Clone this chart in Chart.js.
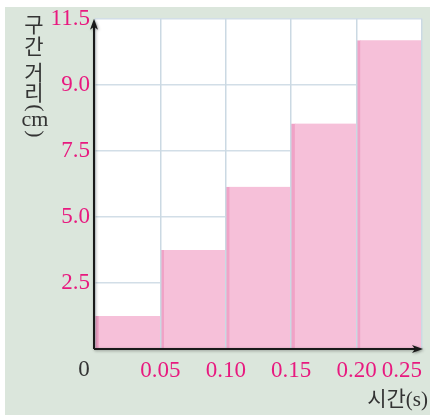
<!DOCTYPE html>
<html>
<head>
<meta charset="utf-8">
<script src="https://cdn.jsdelivr.net/npm/chart.js@4/dist/chart.umd.min.js"></script>
<style>
  html, body { margin: 0; padding: 0; background: #fff; }
  #wrap { width: 430px; height: 415px; }
</style>
</head>
<body>
<div id="wrap"><canvas id="chart" width="430" height="415"></canvas></div>
<script>
// interval edges (s) and distance covered in each interval (cm)
const timeEdges = [0, 0.05, 0.10, 0.15, 0.20, 0.25];
const distances = [1.15, 3.45, 5.65, 7.85, 10.75];
const xLabels = ['', '0.05', '0.10', '0.15', '0.20', '0.25'];
// grid lines are evenly spaced, the printed labels are not
const yGrid = [0, 2.3, 4.6, 6.9, 9.2, 11.5];
const yLabels = ['', '2.5', '5.0', '7.5', '9.0', '11.5'];

const pink = '#e8197f';
const serif = '"Liberation Serif", "DejaVu Serif", serif';
const numFont = { family: serif, size: 23 };
const krFont = '"Noto Sans CJK KR", sans-serif';

const barData = distances.map((d, i) => ({ x: (timeEdges[i] + timeEdges[i + 1]) / 2, y: d }));

// background + axis arrows + titles
const decor = {
  id: 'decor',
  beforeDraw(chart) {
    const c = chart.ctx, a = chart.chartArea;
    c.save();
    c.fillStyle = '#ffffff';
    c.fillRect(0, 0, chart.width, chart.height);
    c.fillStyle = '#dbe6dc';
    c.fillRect(5, 7, chart.width - 5, chart.height - 7);
    c.fillStyle = '#ffffff';
    c.fillRect(a.left, a.top, a.right - a.left, a.bottom - a.top);
    c.restore();
  },
  afterDraw(chart) {
    const c = chart.ctx, a = chart.chartArea;
    const x0 = a.left - 1, y0 = a.bottom;
    c.save();
    c.shadowColor = 'rgba(0,0,0,0.35)';
    c.shadowBlur = 3;
    c.shadowOffsetX = 1;
    c.shadowOffsetY = 1;
    c.strokeStyle = '#1a1a1a';
    c.fillStyle = '#1a1a1a';
    c.lineWidth = 2;
    c.beginPath();
    c.moveTo(x0, y0);
    c.lineTo(x0, a.top + 4);
    c.moveTo(x0, y0);
    c.lineTo(a.right - 4, y0);
    c.stroke();
    // up arrow
    c.beginPath();
    c.moveTo(x0, a.top);
    c.lineTo(x0 - 4, a.top + 11);
    c.lineTo(x0, a.top + 8);
    c.lineTo(x0 + 4, a.top + 11);
    c.closePath();
    c.fill();
    // right arrow
    c.beginPath();
    c.moveTo(a.right + 1, y0);
    c.lineTo(a.right - 10, y0 - 4);
    c.lineTo(a.right - 7, y0);
    c.lineTo(a.right - 10, y0 + 4);
    c.closePath();
    c.fill();
    c.restore();

    c.save();
    c.textAlign = 'center';
    c.textBaseline = 'middle';
    c.fillStyle = '#333333';
    c.font = '23px ' + serif;
    c.fillText('0', 84, 370);
    // vertical y title
    c.font = '21px ' + krFont;
    c.fillText('구', 34, 24);
    c.fillText('간', 34, 46);
    c.fillText('거', 34, 72);
    c.fillText('리', 34, 92);
    c.font = '22px ' + serif;
    c.fillText('cm', 35, 120);
    // parentheses turned for vertical writing
    [['(', 108], [')', 134]].forEach(([ch, y]) => {
      c.save();
      c.translate(35, y);
      c.rotate(Math.PI / 2);
      c.font = '22px ' + serif;
      c.fillText(ch, 0, 0);
      c.restore();
    });
    // x title
    c.textAlign = 'right';
    c.font = '21px ' + serif + ', ' + krFont;
    c.fillText('시간(s)', 428, 400);
    c.restore();
  }
};

new Chart(document.getElementById('chart'), {
  type: 'bar',
  data: {
    datasets: [{
      data: barData,
      backgroundColor: '#f6c0d9',
      borderColor: '#f0a3c7',
      borderWidth: { left: 4, right: 0, top: 0, bottom: 0 },
      borderSkipped: false,
      barPercentage: 1,
      categoryPercentage: 1
    }]
  },
  options: {
    responsive: false,
    animation: false,
    layout: { padding: { left: 0, top: 16, right: 2, bottom: 0 } },
    plugins: { legend: { display: false }, tooltip: { enabled: false } },
    scales: {
      x: {
        type: 'linear',
        offset: false,
        min: timeEdges[0],
        max: timeEdges[timeEdges.length - 1],
        afterFit: s => { s.height = 66; },
        afterBuildTicks: s => { s.ticks = timeEdges.map(v => ({ value: v })); },
        grid: { color: '#cbd9e3', lineWidth: 1.5, drawTicks: false, offset: false, z: 1 },
        border: { display: false },
        ticks: {
          align: 'inner',
          padding: 8,
          color: pink,
          font: numFont,
          maxRotation: 0,
          autoSkip: false,
          callback: (v, i) => xLabels[i]
        }
      },
      y: {
        min: yGrid[0],
        max: yGrid[yGrid.length - 1],
        afterFit: s => { s.width = 95; },
        afterBuildTicks: s => { s.ticks = yGrid.map(v => ({ value: v })); },
        grid: { color: '#d2dee7', lineWidth: 1.5, drawTicks: false },
        border: { display: false },
        ticks: {
          padding: 5,
          color: pink,
          font: numFont,
          autoSkip: false,
          callback: (v, i) => yLabels[i]
        }
      }
    }
  },
  plugins: [decor]
});
</script>
</body>
</html>
